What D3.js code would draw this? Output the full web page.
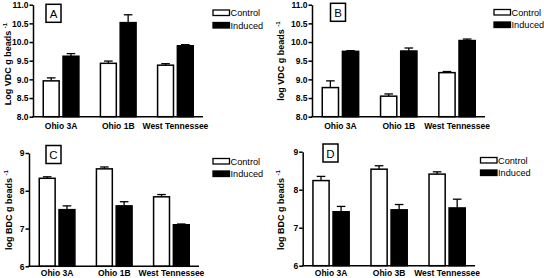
<!DOCTYPE html>
<html>
<head>
<meta charset="utf-8">
<script src="https://cdn.jsdelivr.net/npm/d3@7"></script>
<style>
  html, body { margin: 0; padding: 0; background: #fff; }
  svg { display: block; font-family: "Liberation Sans", Arial, sans-serif; }
  .tick text { font-weight: bold; }
</style>
</head>
<body>
<div id="chart"></div>
<script>
// Four panels of grouped bars (control vs induced), with SE whiskers.

const series = ["Control", "Induced"];
const groupsABC = ["Ohio 3A", "Ohio 1B", "West Tennessee"];
const groupsD = ["Ohio 3A", "Ohio 3B", "West Tennessee"];

const vdcTicks = [8.0, 8.5, 9.0, 9.5, 10.0, 10.5, 11.0];
const bdcTicks = [6, 7, 8, 9];

// Panel A
const controlA = [8.96, 9.43, 9.38];
const controlErrA = [0.08, 0.06, 0.04];
const inducedA = [9.62, 10.52, 9.90];
const inducedErrA = [0.07, 0.21, 0.03];
// Panel B
const controlB = [8.78, 8.55, 9.18];
const controlErrB = [0.18, 0.06, 0.03];
const inducedB = [9.75, 9.76, 10.04];
const inducedErrB = [0.02, 0.08, 0.04];
// Panel C
const controlC = [8.33, 8.58, 7.84];
const controlErrC = [0.04, 0.05, 0.06];
const inducedC = [7.50, 7.60, 7.10];
const inducedErrC = [0.10, 0.11, 0.02];
// Panel D
const controlD = [8.24, 8.54, 8.41];
const controlErrD = [0.11, 0.09, 0.06];
const inducedD = [7.42, 7.47, 7.52];
const inducedErrD = [0.14, 0.14, 0.23];

const W = 544, H = 278;
const svg = d3.select("#chart").append("svg").attr("width", W).attr("height", H);

function panel(o) {
  const g = svg.append("g").attr("transform", `translate(${o.ox},${o.oy})`);

  const y = d3.scaleLinear().domain([o.ticks[0], o.ticks[o.ticks.length - 1]]).range([o.yBot, o.yTop]);
  const x = d3.scaleBand().domain(o.groups).range([o.axisX + 9.5, o.axisEnd - 9]).paddingInner(0.35);
  const xs = d3.scaleBand().domain(series).range([0, x.bandwidth()]).paddingInner(0.12);

  const rows = o.groups.map((grp, i) => [
    { grp, s: "Control", v: o.control[i], e: o.controlErr[i] },
    { grp, s: "Induced", v: o.induced[i], e: o.inducedErr[i] }
  ]).flat();

  // error whiskers (upward only) — drawn under bars
  const eb = g.append("g").attr("stroke", "#000").attr("stroke-width", 1.3);
  rows.forEach(d => {
    const cx = x(d.grp) + xs(d.s) + xs.bandwidth() / 2;
    eb.append("line").attr("x1", cx).attr("x2", cx).attr("y1", y(d.v)).attr("y2", y(d.v + d.e));
    eb.append("line").attr("x1", cx - 4.3).attr("x2", cx + 4.3).attr("y1", y(d.v + d.e)).attr("y2", y(d.v + d.e));
  });

  g.append("g").selectAll("rect").data(rows).join("rect")
    .attr("x", d => x(d.grp) + xs(d.s) + 0.75)
    .attr("width", xs.bandwidth() - 1.5)
    .attr("y", d => y(d.v))
    .attr("height", d => y.range()[0] - y(d.v))
    .attr("fill", d => d.s === "Control" ? "#fff" : "#000")
    .attr("stroke", "#000").attr("stroke-width", 1.5);

  // y axis
  const gy = g.append("g").attr("transform", `translate(${o.axisX},0)`)
    .call(d3.axisLeft(y).tickValues(o.ticks).tickFormat(o.fmt).tickSize(3.5).tickSizeOuter(0).tickPadding(1));
  gy.selectAll("path, line").attr("stroke", "#000").attr("stroke-width", 1.5);
  gy.selectAll("text").attr("font-size", 8.5).attr("fill", "#000");

  // x axis
  g.append("line").attr("x1", o.axisX - 0.75).attr("x2", o.axisEnd)
    .attr("y1", o.yBot).attr("y2", o.yBot).attr("stroke", "#000").attr("stroke-width", 1.5);
  const gx = g.append("g").attr("transform", `translate(0,${o.yBot})`)
    .call(d3.axisBottom(x).tickSize(0).tickPadding(o.labelPad));
  gx.select(".domain").remove();
  gx.selectAll("text").attr("font-size", 8.5).attr("fill", "#000");

  // y title
  const t = g.append("text")
    .attr("transform", `translate(${o.titleX},${o.titleY}) rotate(-90)`)
    .attr("text-anchor", "middle").attr("font-size", 9).attr("font-weight", "bold");
  t.append("tspan").text(o.title + " ");
  t.append("tspan").attr("dy", -4).attr("font-size", 6).text("-1");

  // panel letter
  g.append("rect").attr("x", o.lx).attr("y", o.ly).attr("width", 15).attr("height", 18)
    .attr("fill", "#fff").attr("stroke", "#000").attr("stroke-width", 1.5);
  g.append("text").attr("x", o.lx + 7.5).attr("y", o.ly + 13.5).attr("text-anchor", "middle")
    .attr("font-size", 11.5).text(o.letter);

  // legend
  series.forEach((s, i) => {
    const ly = o.legY + i * 12.5;
    g.append("rect").attr("x", o.legX).attr("y", ly).attr("width", 16.5).attr("height", 5.5)
      .attr("fill", s === "Control" ? "#fff" : "#000").attr("stroke", "#000").attr("stroke-width", 1.3);
    g.append("text").attr("x", o.legX + 17.5).attr("y", ly + 6).attr("font-size", 9.2).text(s);
  });
}

panel({ letter: "A", ox: 0, oy: 0, axisX: 33, axisEnd: 203, yTop: 4.7, yBot: 116.7,
  ticks: vdcTicks, fmt: d3.format(".1f"), groups: groupsABC, labelPad: 6,
  control: controlA, controlErr: controlErrA, induced: inducedA, inducedErr: inducedErrA,
  title: "Log VDC g beads", titleX: 11, titleY: 64, lx: 46, ly: 4.3, legX: 213, legY: 10 });

panel({ letter: "B", ox: 272, oy: 0, axisX: 40, axisEnd: 213, yTop: 4.7, yBot: 116.7,
  ticks: vdcTicks, fmt: d3.format(".1f"), groups: groupsABC, labelPad: 6,
  control: controlB, controlErr: controlErrB, induced: inducedB, inducedErr: inducedErrB,
  title: "log VDC g beads", titleX: 11.5, titleY: 61, lx: 58.5, ly: 3.3, legX: 222, legY: 9.5 });

panel({ letter: "C", ox: 0, oy: 139, axisX: 29, axisEnd: 199, yTop: 14, yBot: 127.3,
  ticks: bdcTicks, fmt: d3.format("d"), groups: groupsABC, labelPad: 4,
  control: controlC, controlErr: controlErrC, induced: inducedC, inducedErr: inducedErrC,
  title: "log BDC g beads", titleX: 12, titleY: 71, lx: 46, ly: 6.5, legX: 213, legY: 19.5 });

panel({ letter: "D", ox: 272, oy: 139, axisX: 30.7, axisEnd: 203, yTop: 12.7, yBot: 126.7,
  ticks: bdcTicks, fmt: d3.format("d"), groups: groupsD, labelPad: 4,
  control: controlD, controlErr: controlErrD, induced: inducedD, inducedErr: inducedErrD,
  title: "log BDC g beads", titleX: 12, titleY: 71, lx: 51, ly: 5, legX: 208.5, legY: 18.5 });
</script>
</body>
</html>
